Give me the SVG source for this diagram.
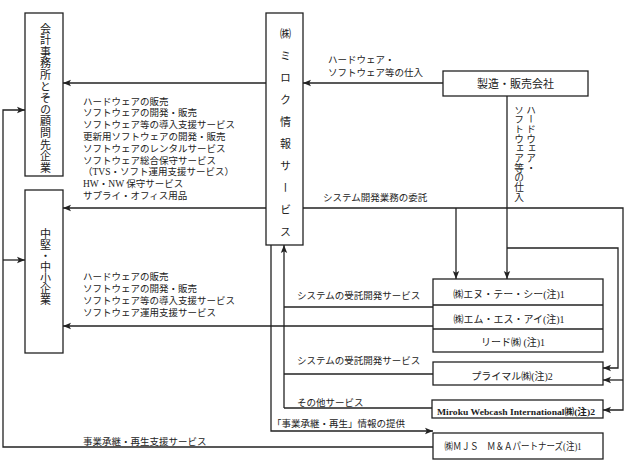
<svg xmlns="http://www.w3.org/2000/svg" width="631" height="463" viewBox="0 0 631 463">
<style>
.box{fill:#fff;stroke:#222;stroke-width:1.3}
.ln{fill:none;stroke:#222;stroke-width:1.3}
.t{font-family:"Liberation Serif","Noto Sans CJK JP",serif;font-size:9.5px;fill:#222}
.bt{font-family:"Liberation Serif","Noto Sans CJK JP",serif;font-size:10px;fill:#222;text-anchor:middle}
.v{font-family:"Noto Sans CJK JP",sans-serif;font-size:11px;fill:#222;writing-mode:vertical-rl}
</style>
<defs>
<marker id="ah" markerUnits="userSpaceOnUse" markerWidth="8" markerHeight="8" viewBox="0 0 8 8" refX="8" refY="4" orient="auto">
<path d="M0,0.8 L8,4 L0,7.2 L1.8,4 Z" fill="#222"/>
</marker>
</defs>

<g id="connectors">
<line class="ln" x1="443" y1="83" x2="303" y2="83" marker-end="url(#ah)"/>
<line class="ln" x1="266" y1="83" x2="63" y2="83" marker-end="url(#ah)"/>
<line class="ln" x1="266" y1="208" x2="63" y2="208" marker-end="url(#ah)"/>
<polyline class="ln" points="303,208 623,208 623,410 603,410" marker-end="url(#ah)"/>
<line class="ln" x1="623" y1="380" x2="603" y2="380" marker-end="url(#ah)"/>
<line class="ln" x1="456" y1="208" x2="456" y2="279" marker-end="url(#ah)"/>
<line class="ln" x1="507" y1="96" x2="507" y2="279" marker-end="url(#ah)"/>
<polyline class="ln" points="507,248 618,248 618,368 603,368" marker-end="url(#ah)"/>
<line class="ln" x1="284" y1="408" x2="284" y2="245" marker-end="url(#ah)"/>
<line class="ln" x1="433" y1="307" x2="284" y2="307"/>
<line class="ln" x1="433" y1="374" x2="284" y2="374"/>
<line class="ln" x1="432" y1="408" x2="284" y2="408"/>
<polyline class="ln" points="271,245 271,431 433,431" marker-end="url(#ah)"/>
<line class="ln" x1="433" y1="326" x2="63" y2="326" marker-end="url(#ah)"/>
<polyline class="ln" points="433,447 3,447 3,110 25,110" marker-end="url(#ah)"/>
<line class="ln" x1="3" y1="260" x2="25" y2="260" marker-end="url(#ah)"/>
</g>

<g id="kaikei">
<rect class="box" x="25" y="13" width="38" height="163"/>
<text class="v" x="45.5" y="23" style="letter-spacing:0.6px">会計事務所とその顧問先企業</text>
</g>
<g id="chuken">
<rect class="box" x="25" y="190" width="38" height="163"/>
<text class="v" x="45.5" y="228">中堅・中小企業</text>
</g>
<g id="mjs-main">
<rect class="box" x="266" y="13" width="37" height="232"/>
<text class="v" x="285.5" y="28" style="letter-spacing:11px">㈱ミロク情報サービス</text>
</g>
<g id="seizo">
<rect class="box" x="443" y="71" width="145" height="25"/>
<text class="bt" x="515.5" y="88" style="font-size:11px">製造・販売会社</text>
</g>
<g id="ent">
<rect class="box" x="433" y="279" width="170" height="73"/>
<line class="ln" x1="433" y1="305" x2="603" y2="305"/>
<line class="ln" x1="433" y1="329" x2="603" y2="329"/>
<text class="bt" x="509" y="298">㈱エヌ・テー・シー(注)1</text>
<text class="bt" x="509" y="323">㈱エム・エス・アイ(注)1</text>
<text class="bt" x="513" y="346">リード㈱ (注)1</text>
</g>
<g id="primal">
<rect class="box" x="433" y="362" width="170" height="23"/>
<text class="bt" x="512" y="380">プライマル㈱(注)2</text>
</g>
<g id="webcash">
<rect class="box" x="432" y="400" width="171" height="18"/>
<text class="bt" x="516" y="415" style="font-size:9px;font-weight:bold" textLength="158" lengthAdjust="spacingAndGlyphs">Miroku Webcash International㈱(注)2</text>
</g>
<g id="mjsma">
<rect class="box" x="433" y="433" width="170" height="26"/>
<text class="bt" x="513" y="450" textLength="137" lengthAdjust="spacingAndGlyphs">㈱ＭＪＳ　Ｍ＆Ａパートナーズ(注)1</text>
</g>

<g id="labels">
<text class="t" x="328" y="63">ハードウェア・</text>
<text class="t" x="328" y="76">ソフトウェア等の仕入</text>
<text class="v" x="531" y="105" style="font-size:9.7px">ハードウェア・</text>
<text class="v" x="519" y="105" style="font-size:9.7px">ソフトウェア等の仕入</text>
<text class="t" x="83" y="104.5">ハードウェアの販売</text>
<text class="t" x="83" y="116.3">ソフトウェアの開発・販売</text>
<text class="t" x="83" y="128.1">ソフトウェア等の導入支援サービス</text>
<text class="t" x="83" y="139.9">更新用ソフトウェアの開発・販売</text>
<text class="t" x="83" y="151.7">ソフトウェアのレンタルサービス</text>
<text class="t" x="83" y="163.5">ソフトウェア総合保守サービス</text>
<text class="t" x="83" y="175.3">（TVS・ソフト運用支援サービス）</text>
<text class="t" x="83" y="187.1">HW・NW 保守サービス</text>
<text class="t" x="83" y="198.9">サプライ・オフィス用品</text>
<text class="t" x="323" y="200.5">システム開発業務の委託</text>
<text class="t" x="83" y="279.5">ハードウェアの販売</text>
<text class="t" x="83" y="291.8">ソフトウェアの開発・販売</text>
<text class="t" x="83" y="304.1">ソフトウェア等の導入支援サービス</text>
<text class="t" x="83" y="316.4">ソフトウェア運用支援サービス</text>
<text class="t" x="297" y="298.5">システムの受託開発サービス</text>
<text class="t" x="297" y="363.5">システムの受託開発サービス</text>
<text class="t" x="297" y="405.5">その他サービス</text>
<text class="t" x="272" y="427">「事業承継・再生」情報の提供</text>
<text class="t" x="83" y="445">事業承継・再生支援サービス</text>
</g>
</svg>
